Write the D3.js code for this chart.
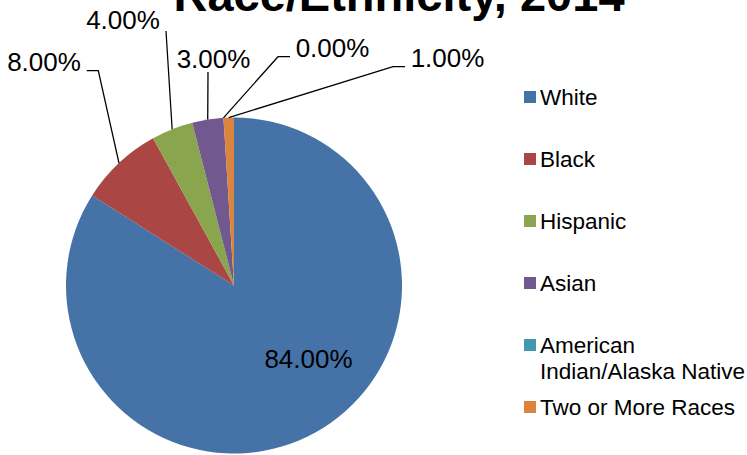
<!DOCTYPE html>
<html>
<head>
<meta charset="utf-8">
<script src="https://cdn.jsdelivr.net/npm/d3@7"></script>
<style>
  html, body { margin: 0; padding: 0; background: #fff; }
  svg { display: block; font-family: "Liberation Sans", Arial, sans-serif; }
</style>
</head>
<body>
<svg id="chart" width="747" height="455"></svg>
<script>
const title = "Race/Ethnicity, 2014";
const categories = ["White", "Black", "Hispanic", "Asian", "American Indian/Alaska Native", "Two or More Races"];
const legendLines = [["White"], ["Black"], ["Hispanic"], ["Asian"], ["American", "Indian/Alaska Native"], ["Two or More Races"]];
const values = [84, 8, 4, 3, 0, 1];
const colors = ["#4572A7", "#AA4643", "#89A54E", "#71588F", "#4198AF", "#DB843D"];

// where each outside label sits and how its leader line bends
const labelLayout = [
  { x: 308.5, y: 368, inside: true },
  { x: 44, y: 70.5, path: [[98.3, 70.7], [86.7, 70.7]] },
  { x: 123, y: 29, path: [[166, 31]] },
  { x: 213.5, y: 68, path: [[208, 72]] },
  { x: 332.5, y: 57, path: [[278, 56.7], [290, 56.7]] },
  { x: 447.5, y: 67, path: [[393, 66.7], [405, 66.7]] }
];

const svg = d3.select("#chart"),
  cx = 234, cy = 285.5, radius = 168;

const data = categories.map((name, i) => ({ name, value: values[i], color: colors[i] }));

const pie = d3.pie().sort(null).value(d => d.value);
const arc = d3.arc().innerRadius(0).outerRadius(radius);
const edge = d3.arc().innerRadius(radius).outerRadius(radius);
const arcs = pie(data);

const g = svg.append("g").attr("transform", `translate(${cx},${cy})`);

g.selectAll("path.slice")
  .data(arcs)
  .join("path")
  .attr("class", "slice")
  .attr("fill", d => d.data.color)
  .attr("d", arc);

// leader lines
const line = d3.line();
arcs.forEach((d, i) => {
  const lay = labelLayout[i];
  if (lay.inside) return;
  const [ex, ey] = edge.centroid(d);
  const pts = [[ex + cx, ey + cy]].concat(lay.path);
  svg.append("path")
    .attr("d", line(pts))
    .attr("fill", "none")
    .attr("stroke", "#000")
    .attr("stroke-width", 1.3);
});

svg.selectAll("text.lbl")
  .data(arcs)
  .join("text")
  .attr("class", "lbl")
  .attr("x", (d, i) => labelLayout[i].x)
  .attr("y", (d, i) => labelLayout[i].y)
  .attr("text-anchor", "middle")
  .attr("font-size", 26)
  .attr("fill", "#000")
  .text(d => d3.format(".2f")(d.data.value) + "%");

// title (runs off the top edge like the original)
svg.append("text")
  .attr("x", 399)
  .attr("y", 11)
  .attr("text-anchor", "middle")
  .attr("font-size", 47)
  .attr("font-weight", "bold")
  .attr("fill", "#000")
  .text(title);

// legend
const legendY = d3.scaleLinear().domain([0, 1]).range([97, 159]);
const legend = svg.append("g");
data.forEach((d, i) => {
  const y = legendY(i);
  legend.append("rect")
    .attr("x", 524).attr("y", y - 6)
    .attr("width", 12).attr("height", 12)
    .attr("fill", d.color);
  legendLines[i].forEach((t, j) => {
    legend.append("text")
      .attr("x", 540)
      .attr("y", y + 8 + j * 25.7)
      .attr("font-size", 22.5)
      .attr("fill", "#000")
      .text(t);
  });
});
</script>
</body>
</html>
